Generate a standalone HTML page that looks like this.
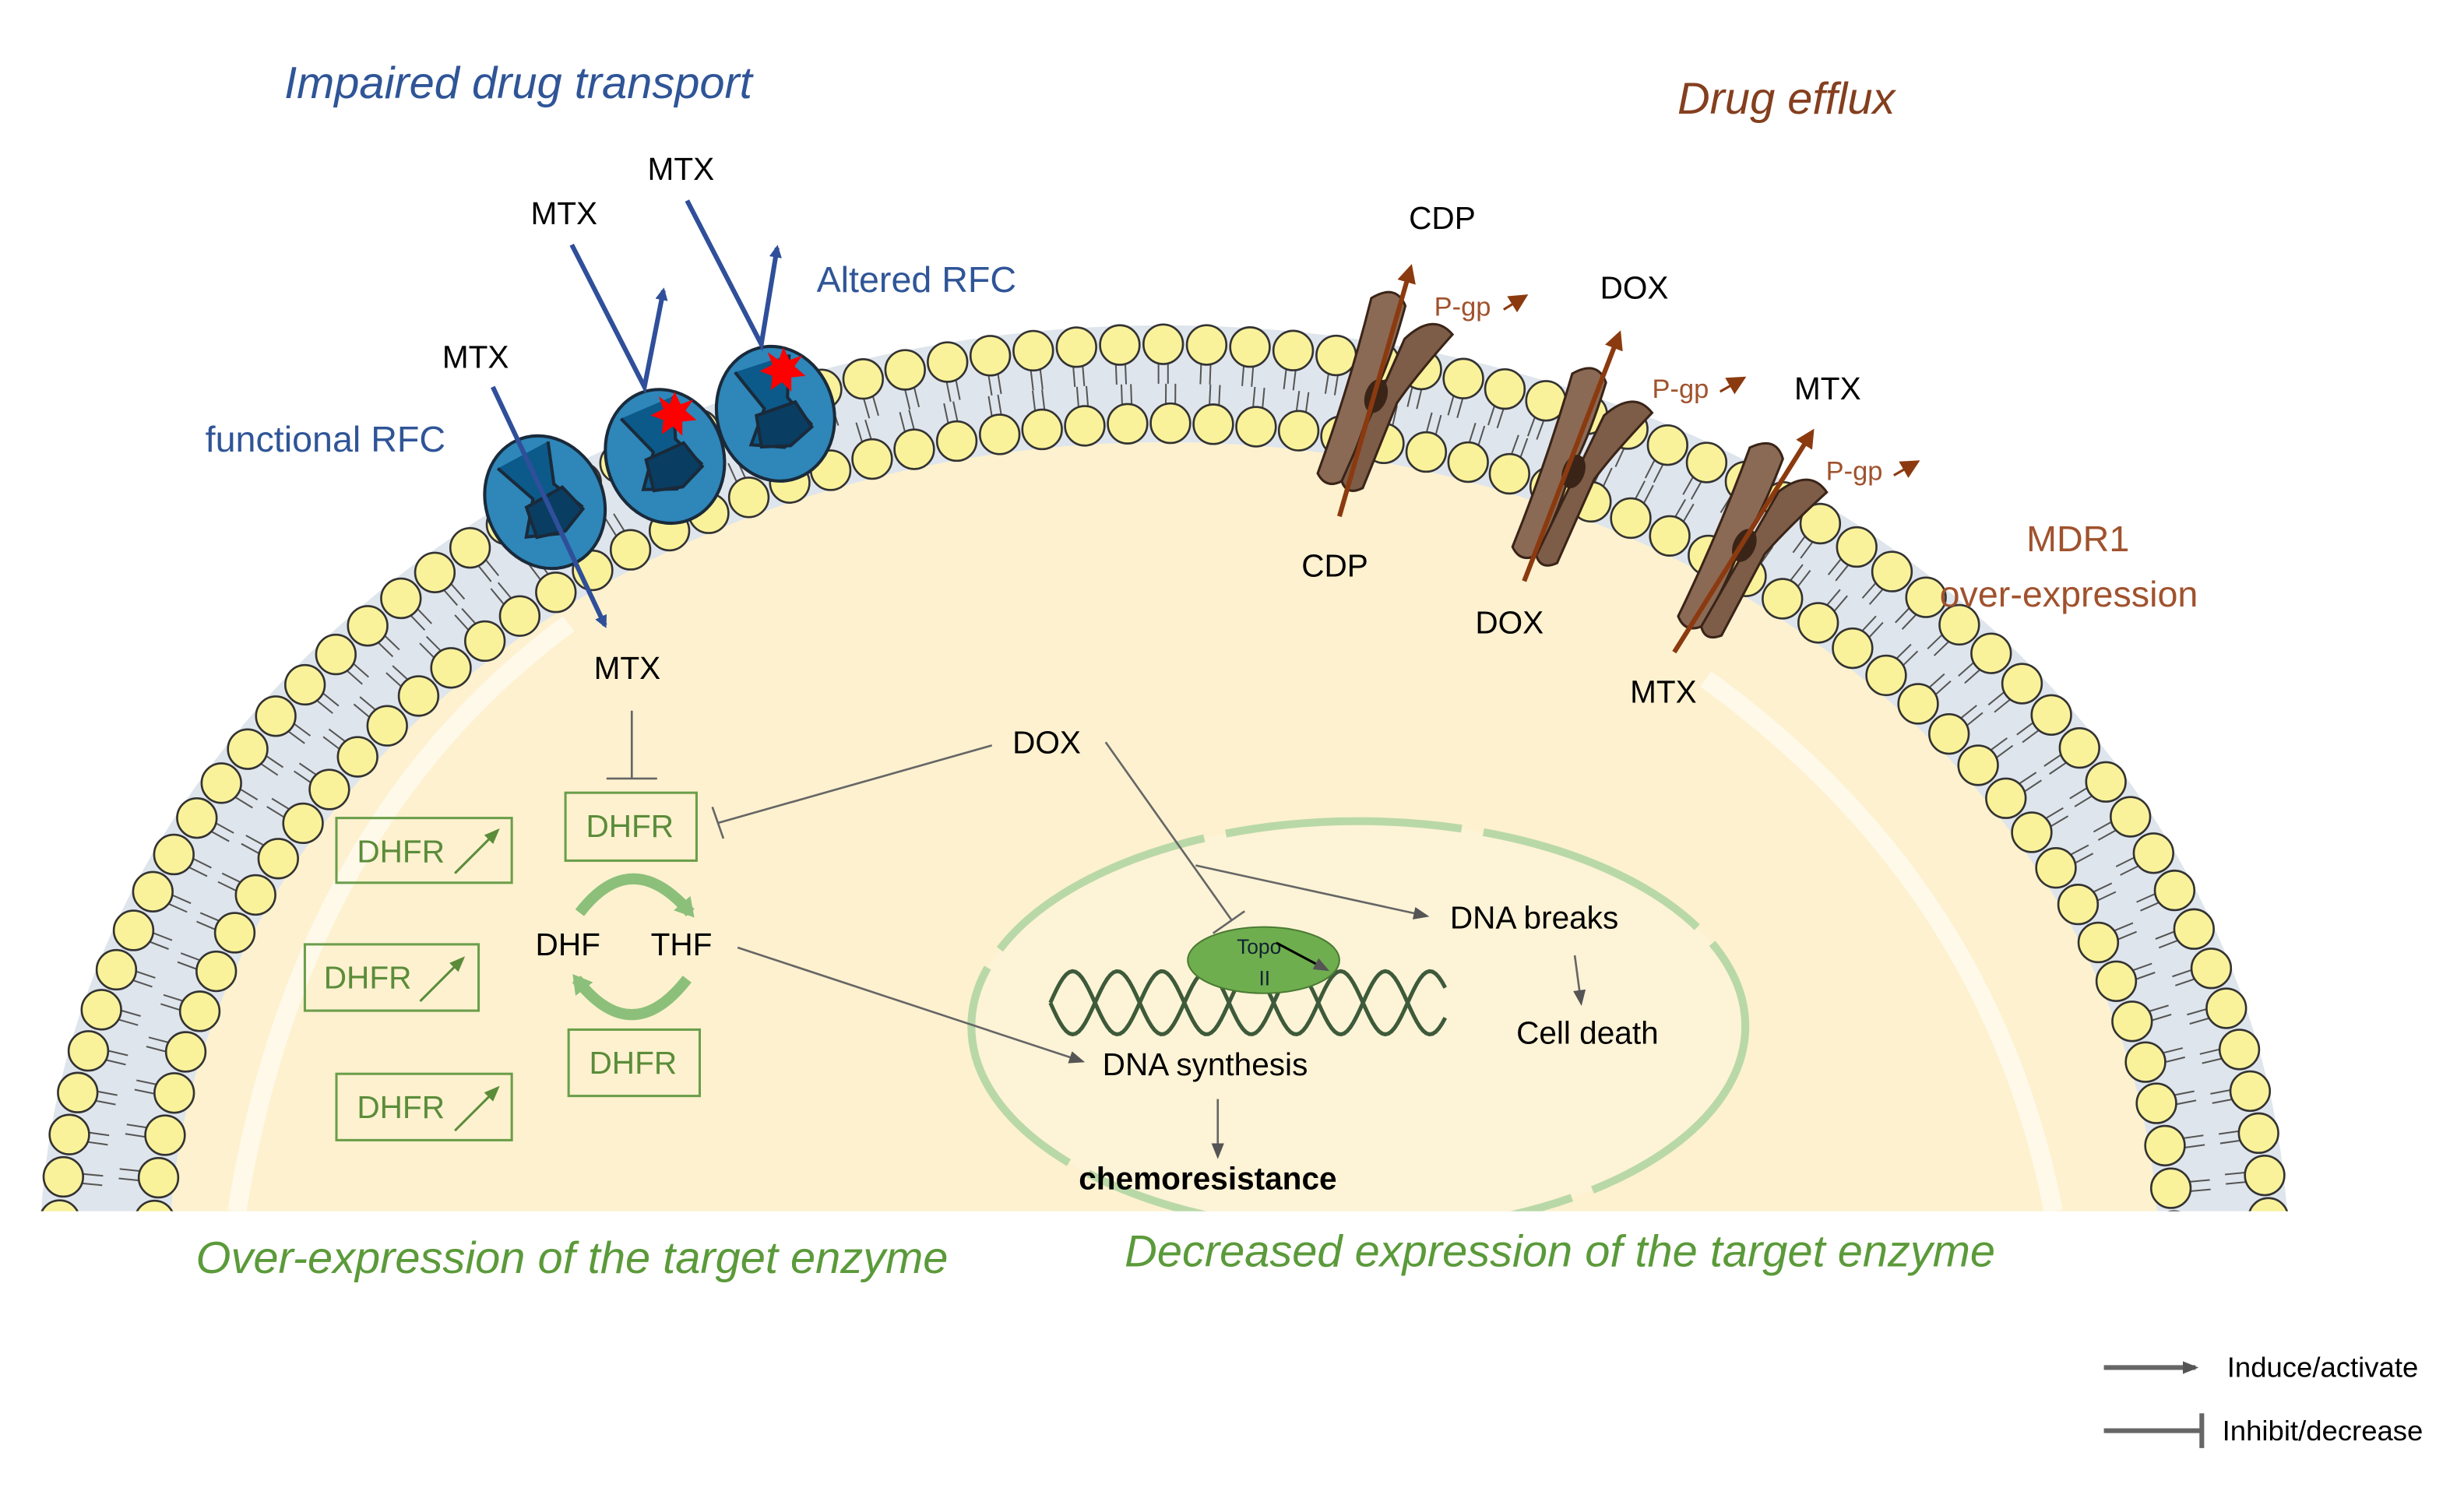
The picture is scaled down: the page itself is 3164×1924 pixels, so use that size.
<!DOCTYPE html>
<html><head><meta charset="utf-8"><style>
html,body{margin:0;padding:0;background:#fff;width:3164px;height:1924px;overflow:hidden;}
svg{display:block;}
text{font-family:"Liberation Sans",sans-serif;}
</style></head><body>
<svg id="s" width="3164" height="1924" viewBox="0 0 1560 948.6" preserveAspectRatio="none" xmlns="http://www.w3.org/2000/svg">
<defs>
<clipPath id="cb"><rect x="0" y="0" width="1560" height="767"/></clipPath>
<marker id="ab" markerWidth="8" markerHeight="8" refX="6" refY="4" orient="auto" markerUnits="userSpaceOnUse"><path d="M0,0 L8,4 L0,8z" fill="#2f4f9a"/></marker>
<marker id="ar" markerWidth="12" markerHeight="12" refX="9" refY="6" orient="auto" markerUnits="userSpaceOnUse"><path d="M0,0 L12,6 L0,12z" fill="#8b3a0f"/></marker>
<marker id="ag" markerWidth="10" markerHeight="10" refX="8" refY="5" orient="auto" markerUnits="userSpaceOnUse"><path d="M0,1 L10,5 L0,9z" fill="#555"/></marker>
<marker id="agr" markerWidth="10" markerHeight="10" refX="8" refY="5" orient="auto" markerUnits="userSpaceOnUse"><path d="M0,1 L10,5 L0,9z" fill="#5b8c3a"/></marker>
<marker id="agg" markerWidth="14" markerHeight="14" refX="8" refY="7" orient="auto" markerUnits="userSpaceOnUse"><path d="M0,0 L12,7 L0,14z" fill="#8cc07a"/></marker>
<g id="pgp">
 <path d="M-26,-58 Q-14,-72 -4,-60 Q-2,-20 -6,0 Q-4,30 -8,58 Q-16,66 -24,58 Q-22,0 -26,-58z" fill="#8b6a55" stroke="#3a2418" stroke-width="1.5"/>
 <path d="M2,-40 Q14,-62 30,-52 Q16,-20 10,0 Q8,30 6,58 Q-2,66 -8,58 Q-4,20 2,-40z" fill="#7d5c48" stroke="#3a2418" stroke-width="1.5"/>
 <ellipse cx="-4" cy="0" rx="7" ry="11" fill="#3a2418"/>
</g>
</defs>
<g clip-path="url(#cb)">
 <ellipse cx="737" cy="800" rx="712" ry="594" fill="#dfe5ec"/>
 <ellipse cx="737" cy="800" rx="630" ry="520" fill="#fdf1cf"/>
 <path d="M150,767 Q190,520 360,395" stroke="#fffbf0" stroke-width="12" fill="none" opacity="0.8"/>
 <path d="M1300,767 Q1260,560 1080,430" stroke="#fffbf0" stroke-width="12" fill="none" opacity="0.8"/>
 <g id="beads"></g>
 <ellipse cx="860" cy="650" rx="245" ry="130" fill="#fdf3d6" stroke="#b9d8a8" stroke-width="5" stroke-dasharray="150,14"/>
</g>

<g stroke="#1a2a3a" stroke-width="2">
 <g transform="translate(345,318) rotate(-25)"><ellipse rx="37" ry="43" fill="#2e86b9"/><path d="M-18,-32 L-6,-5 L-20,15 L0,22 L20,12 L10,-8 L18,-34" fill="#0b5a8a"/><path d="M-12,-2 L14,-4 L20,14 L4,22 L-14,18z" fill="#0a3d62"/></g>
 <g transform="translate(421,289) rotate(-20)"><ellipse rx="37" ry="43" fill="#2e86b9"/><path d="M-18,-32 L-6,-5 L-20,15 L0,22 L20,12 L10,-8 L18,-34" fill="#0b5a8a"/><path d="M-12,-2 L14,-4 L20,14 L4,22 L-14,18z" fill="#0a3d62"/></g>
 <g transform="translate(491,262) rotate(-15)"><ellipse rx="37" ry="43" fill="#2e86b9"/><path d="M-18,-32 L-6,-5 L-20,15 L0,22 L20,12 L10,-8 L18,-34" fill="#0b5a8a"/><path d="M-12,-2 L14,-4 L20,14 L4,22 L-14,18z" fill="#0a3d62"/></g>
</g>
<polygon points="427,248 431,256 439,253 434,260 441,266 432,267 432,276 426,270 419,275 420,266 412,263 420,259 417,251 424,256" fill="#f00"/>
<polygon points="496,220 500,228 508,225 503,232 510,238 501,239 501,248 495,242 488,247 489,238 481,235 489,231 486,223 493,228" fill="#f00"/>

<use href="#pgp" transform="translate(875,252) rotate(18)"/>
<use href="#pgp" transform="translate(1000,300) rotate(20)"/>
<use href="#pgp" transform="translate(1108,347) rotate(24)"/>
<g stroke="#8b3a0f" stroke-width="3" marker-end="url(#ar)">
 <line x1="848" y1="327" x2="893" y2="170"/>
 <line x1="965" y1="368" x2="1025" y2="212"/>
 <line x1="1060" y1="413" x2="1147" y2="274"/>
</g>
<g stroke="#8b3a0f" stroke-width="1.5" marker-end="url(#ar)">
 <line x1="952" y1="196" x2="965" y2="188"/>
 <line x1="1089" y1="248" x2="1103" y2="240"/>
 <line x1="1199" y1="301" x2="1213" y2="293"/>
</g>

<g stroke="#2f4f9a" stroke-width="3" fill="none">
 <line x1="312" y1="245" x2="383" y2="396" marker-end="url(#ab)"/>
 <polyline points="362,155 408,245 420,184" marker-end="url(#ab)"/>
 <polyline points="435,127 482,218 492,157" marker-end="url(#ab)"/>
</g>

<g font-style="italic" font-size="28.5">
 <text x="180" y="62" fill="#2f5597">Impaired drug transport</text>
 <text x="1062" y="72" fill="#843f1f">Drug efflux</text>
 <text x="124" y="806" fill="#5b9a3a">Over-expression of the target enzyme</text>
 <text x="712" y="802" fill="#5b9a3a">Decreased expression of the target enzyme</text>
</g>
<g font-size="23" fill="#2f5597">
 <text x="517" y="185">Altered RFC</text>
 <text x="130" y="286">functional RFC</text>
</g>
<g font-size="20" fill="#000">
 <text x="336" y="142">MTX</text><text x="410" y="114">MTX</text><text x="280" y="233">MTX</text><text x="376" y="430">MTX</text>
 <text x="892" y="145">CDP</text><text x="1013" y="189">DOX</text><text x="1136" y="253">MTX</text>
 <text x="824" y="365">CDP</text><text x="934" y="401">DOX</text><text x="1032" y="445">MTX</text>
 <text x="641" y="477">DOX</text>
 <text x="339" y="605">DHF</text><text x="412" y="605">THF</text>
 <text x="918" y="588">DNA breaks</text><text x="960" y="661">Cell death</text>
 <text x="698" y="681">DNA synthesis</text>
 <text x="683" y="753" font-weight="bold">chemoresistance</text>
</g>
<g font-size="17" fill="#a0522d">
 <text x="908" y="200">P-gp</text><text x="1046" y="252">P-gp</text><text x="1156" y="304">P-gp</text>
</g>
<g font-size="23" fill="#a0522d">
 <text x="1283" y="349">MDR1</text><text x="1228" y="384">over-expression</text>
</g>

<g fill="none" stroke="#6a9e4a" stroke-width="1.5">
 <rect x="358" y="502" width="83" height="43"/><rect x="360" y="652" width="83" height="42"/>
 <rect x="213" y="518" width="111" height="41"/><rect x="193" y="598" width="110" height="42"/><rect x="213" y="680" width="111" height="42"/>
</g>
<g font-size="20" fill="#5b8c3a">
 <text x="371" y="530">DHFR</text><text x="373" y="680">DHFR</text>
 <text x="226" y="546">DHFR</text><text x="205" y="626">DHFR</text><text x="226" y="708">DHFR</text>
</g>
<g stroke="#5b8c3a" stroke-width="1.5" marker-end="url(#agr)">
 <line x1="288" y1="553" x2="315" y2="526"/><line x1="266" y1="634" x2="293" y2="607"/><line x1="288" y1="716" x2="315" y2="689"/>
</g>
<g stroke="#8cc07a" stroke-width="7" fill="none">
 <path d="M367,578 Q400,535 437,578" marker-end="url(#agg)"/>
 <path d="M435,620 Q400,665 365,620" marker-end="url(#agg)"/>
</g>

<g stroke="#666" stroke-width="1.3" fill="none">
 <line x1="400" y1="450" x2="400" y2="493"/><line x1="384" y1="493" x2="416" y2="493"/>
 <line x1="628" y1="472" x2="455" y2="521"/><line x1="451" y1="511" x2="458" y2="531"/>
 <line x1="700" y1="470" x2="780" y2="583"/><line x1="768" y1="591" x2="788" y2="577"/>
 <line x1="757" y1="548" x2="903" y2="580" marker-end="url(#ag)"/>
 <line x1="467" y1="600" x2="685" y2="672" marker-end="url(#ag)"/>
 <line x1="997" y1="605" x2="1001" y2="635" marker-end="url(#ag)"/>
 <line x1="771" y1="696" x2="771" y2="732" marker-end="url(#ag)"/>
</g>

<g stroke="#3d5a3a" stroke-width="2.5" fill="none">
 <path id="h1" d=""/>
</g>
<ellipse cx="800" cy="608" rx="48" ry="21" fill="#6fae4f" stroke="#4a7a34"/>
<text x="783" y="604" font-size="13" fill="#123">Topo</text>
<text x="797" y="624" font-size="13" fill="#123">II</text>
<line x1="808" y1="597" x2="840" y2="614" stroke="#000" stroke-width="1.5" marker-end="url(#ag)"/>

<g stroke="#666" stroke-width="3">
 <line x1="1332" y1="866" x2="1390" y2="866" marker-end="url(#ag)"/>
 <line x1="1332" y1="906" x2="1394" y2="906"/><line x1="1394" y1="895" x2="1394" y2="917"/>
</g>
<g font-size="18" fill="#000">
 <text x="1410" y="872">Induce/activate</text><text x="1407" y="912">Inhibit/decrease</text>
</g>
<script>
(function(){
var ns="http://www.w3.org/2000/svg",g=document.getElementById('beads');
function row(rx,ry,cx,cy){var pts=[],prev=null,acc=0;
 for(var i=0;i<=4000;i++){var t=Math.PI*i/4000;var x=cx-rx*Math.cos(t),y=cy-ry*Math.sin(t);
  if(prev){acc+=Math.hypot(x-prev[0],y-prev[1]);}
  if(!prev||acc>=27){pts.push([x,y,t]);acc=0;}prev=[x,y];}
 return pts;}
var cx=737,cy=800,o=row(700,582,cx,cy),inn=row(640,532,cx,cy);
var tails="";
o.forEach(function(p){var nx=Math.cos(p[2])*(-1),ny=-Math.sin(p[2]);
 var x=p[0],y=p[1],px=-ny*3,py=nx*3;
 tails+="M"+(x+px)+","+(y+py)+"l"+(-nx*25)+","+(-ny*25)+"M"+(x-px)+","+(y-py)+"l"+(-nx*25)+","+(-ny*25);});
inn.forEach(function(p){var nx=Math.cos(p[2])*(-1),ny=-Math.sin(p[2]);
 var x=p[0],y=p[1],px=-ny*3,py=nx*3;
 tails+="M"+(x+px)+","+(y+py)+"l"+(nx*25)+","+(ny*25)+"M"+(x-px)+","+(y-py)+"l"+(nx*25)+","+(ny*25);});
var pa=document.createElementNS(ns,'path');pa.setAttribute('d',tails);pa.setAttribute('stroke','#555');pa.setAttribute('stroke-width','1');pa.setAttribute('fill','none');g.appendChild(pa);
o.concat(inn).forEach(function(p){var c=document.createElementNS(ns,'circle');c.setAttribute('cx',p[0]);c.setAttribute('cy',p[1]);c.setAttribute('r',12.5);c.setAttribute('fill','#faf29a');c.setAttribute('stroke','#333');c.setAttribute('stroke-width','1.3');g.appendChild(c);});
var d="";for(var k=0;k<2;k++){var s="";for(var x=665;x<=915;x+=2){var y=635+20*Math.sin((x-665)/9+k*Math.PI);s+=(x==665?"M":"L")+x+","+y;}d+=s;}
document.getElementById('h1').setAttribute('d',d);
})();
</script>
</svg>
</body></html>
